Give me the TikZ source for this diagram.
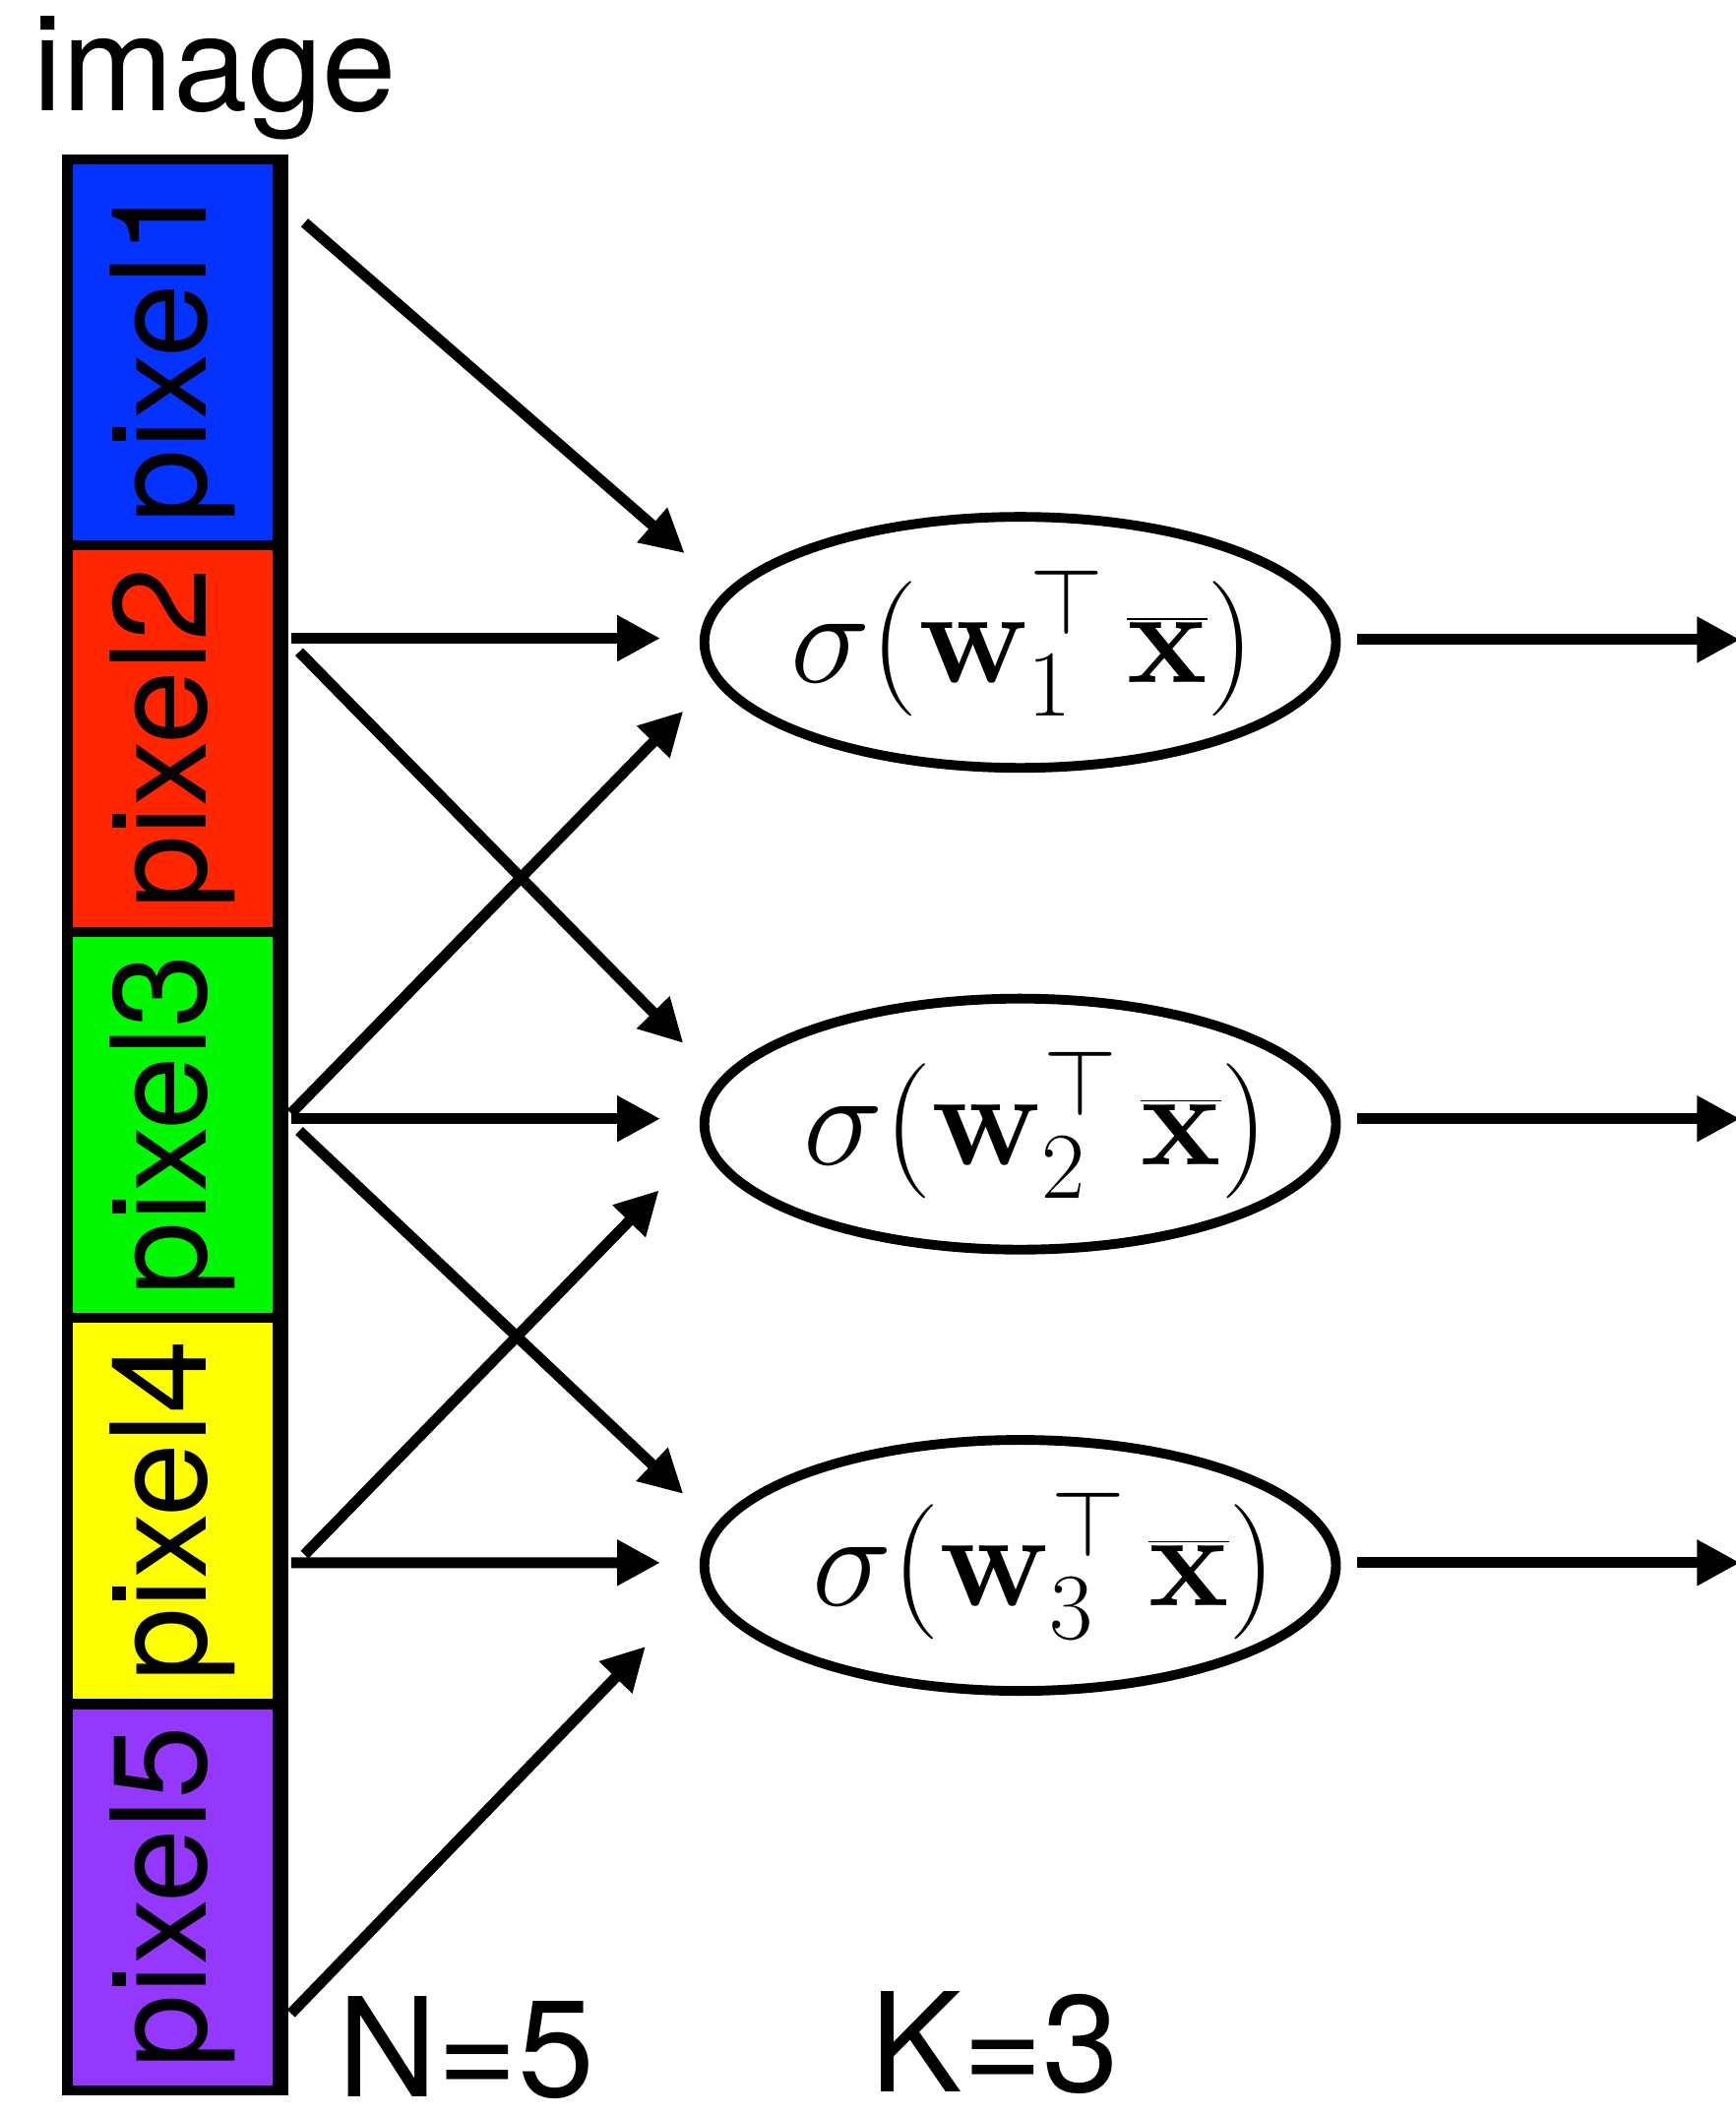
\RequirePackage{fix-cm}
\documentclass[tikz,border=0pt]{standalone}
\usepackage[no-math]{fontspec}
\setmainfont{TeX Gyre Heros}
\usepackage{graphicx}
\usetikzlibrary{shapes.geometric,arrows.meta}
\definecolor{blueberry}{HTML}{0433FF}
\definecolor{maraschino}{HTML}{FF2600}
\definecolor{springgreen}{HTML}{00F900}
\definecolor{lemon}{HTML}{FFFF00}
\definecolor{grape}{HTML}{9437FF}
\newcommand{\neurontext}[2]{\makebox[0pt]{\hspace{#2}$\sigma(\mathbf{w}_{#1}^{\top}\,\overline{\mathbf{x}})$}}
\begin{document}
\begin{tikzpicture}[x=0.5pt,y=-0.5pt,
  cell/.style={draw=black,line width=3.7pt,minimum width=78pt,minimum height=143.1pt,
    inner sep=0pt,font=\fontsize{49}{58}\selectfont},
  neuron/.style={ellipse,draw=black,line width=3.6pt,minimum width=234pt,minimum height=93pt,
    inner sep=0pt,font=\fontsize{50}{60}\selectfont},
  arr/.style={line width=4pt,-{Triangle[length=16pt,width=16pt]}},
  bigtext/.style={inner sep=0pt,font=\fontsize{49.5}{58}\selectfont},
  countlabel/.style={inner sep=0pt,font=\fontsize{51}{60}\selectfont}]
\useasboundingbox (0,0) rectangle (1286,1568);

\node[bigtext,anchor=base west] (title) at (24,82) {image};

\node[cell,fill=blueberry]   (p1) at (128,261.1)  {\rotatebox{90}{pixel1}};
\node[cell,fill=maraschino]  (p2) at (128,547.3)  {\rotatebox{90}{pixel2}};
\node[cell,fill=springgreen] (p3) at (128,833.5)  {\rotatebox{90}{pixel3}};
\node[cell,fill=lemon]       (p4) at (128,1119.7) {\rotatebox{90}{pixel4}};
\node[cell,fill=grape]       (p5) at (128,1405.9) {\rotatebox{90}{pixel5}};
\draw[line width=6pt] ([xshift=-1]p1.north east) -- ([xshift=-1]p5.south east);

\node[neuron] (e1) at (756,476)  {\neurontext{1}{2pt}};
\node[neuron] (e2) at (756,833)  {\neurontext{2}{12pt}};
\node[neuron] (e3) at (756,1160) {\neurontext{3}{18pt}};

\draw[arr] ([shift={(16,-96.1)}]p1.east) -- ([shift={(-11,-66)}]e1.west);
\draw[arr] ([shift={(6,-74.3)}]p2.east)  -- ([shift={(-29,-3)}]e1.west);
\draw[arr] ([shift={(12,-64.3)}]p2.east) -- ([shift={(-12,-60)}]e2.west);
\draw[arr] ([shift={(6,-8.5)}]p3.east)   -- ([shift={(-12,51)}]e1.west);
\draw[arr] ([shift={(6,-4.5)}]p3.east)   -- ([shift={(-29,-4)}]e2.west);
\draw[arr] ([shift={(12,4.5)}]p3.east)   -- ([shift={(-12,-53)}]e3.west);
\draw[arr] ([shift={(16,32.3)}]p4.east)  -- ([shift={(-30,49)}]e2.west);
\draw[arr] ([shift={(6,38.3)}]p4.east)   -- ([shift={(-29,-2)}]e3.west);
\draw[arr] ([shift={(6,86.1)}]p5.east)   -- ([shift={(-40,60)}]e3.west);

\coordinate (o1) at ([shift={(296,-2)}]e1.east);
\coordinate (o2) at ([shift={(296,-4)}]e2.east);
\coordinate (o3) at ([shift={(296,-2)}]e3.east);
\draw[arr] ([shift={(12,-2)}]e1.east) -- (o1);
\draw[arr] ([shift={(12,-4)}]e2.east) -- (o2);
\draw[arr] ([shift={(12,-2)}]e3.east) -- (o3);

\node[countlabel,anchor=base west] (N) at (250,1554) {N=5};
\node[countlabel,anchor=base west] (K) at (645,1550) {K=3};
\end{tikzpicture}
\end{document}
